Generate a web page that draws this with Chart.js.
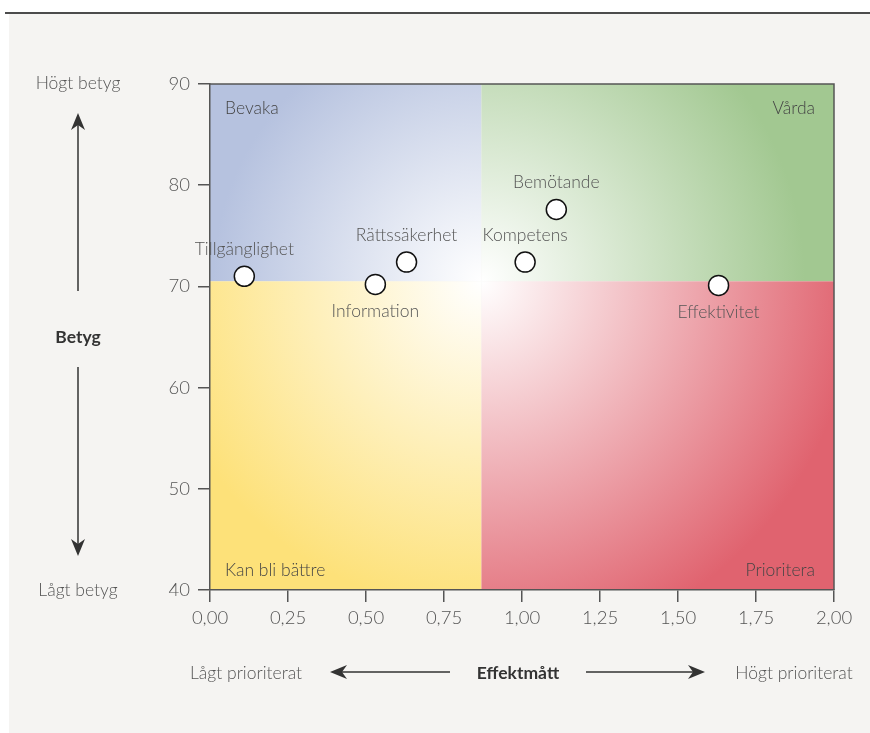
<!DOCTYPE html>
<html>
<head>
<meta charset="utf-8">
<script src="https://cdn.jsdelivr.net/npm/chart.js@4/dist/chart.umd.min.js"></script>
<style>
  html, body { margin: 0; padding: 0; background: #fff; }
  #wrap { width: 870px; height: 733px; }
</style>
</head>
<body>
<div id="wrap"><canvas id="matrix" width="870" height="733"></canvas></div>
<script>
// Data
const areas = ['Tillgänglighet', 'Information', 'Rättssäkerhet', 'Kompetens', 'Bemötande', 'Effektivitet'];
const effekt = [0.11, 0.53, 0.63, 1.01, 1.11, 1.63];
const betyg = [71.0, 70.2, 72.4, 72.4, 77.6, 70.1];
const labelSide = ['above', 'below', 'above', 'above', 'above', 'below'];

// quadrant split (x = effektmått, y = betyg)
const splitX = 0.87;
const splitY = 70.5;
const quadrantNames = ['Bevaka', 'Vårda', 'Kan bli bättre', 'Prioritera'];

const xTicks = [0, 0.25, 0.5, 0.75, 1, 1.25, 1.5, 1.75, 2];
const yTicks = [40, 50, 60, 70, 80, 90];

const FONT = 'Lato, "Open Sans", sans-serif';
const fmt = v => v.toFixed(2).replace('.', ',');

function arrowHead(ctx, tx, ty, dir) {
  // dir: 'up' | 'down' | 'left' | 'right'
  const L = 17, W = 7, N = 12;
  ctx.beginPath();
  if (dir === 'up' || dir === 'down') {
    const s = dir === 'up' ? 1 : -1;
    ctx.moveTo(tx, ty);
    ctx.lineTo(tx - W, ty + s * L);
    ctx.lineTo(tx, ty + s * N);
    ctx.lineTo(tx + W, ty + s * L);
  } else {
    const s = dir === 'left' ? 1 : -1;
    ctx.moveTo(tx, ty);
    ctx.lineTo(tx + s * L, ty - W);
    ctx.lineTo(tx + s * N, ty);
    ctx.lineTo(tx + s * L, ty + W);
  }
  ctx.closePath();
  ctx.fill();
}

const quadrantPlugin = {
  id: 'quadrants',
  beforeDraw(chart) {
    const ctx = chart.ctx;
    const area = chart.chartArea;
    const xs = chart.scales.x, ys = chart.scales.y;
    ctx.save();
    // page background, panel and top rule
    ctx.fillStyle = '#ffffff';
    ctx.fillRect(0, 0, chart.width, chart.height);
    ctx.fillStyle = '#f5f4f2';
    ctx.fillRect(9, 14, chart.width - 9, chart.height - 14);
    ctx.strokeStyle = '#111';
    ctx.lineWidth = 1.5;
    ctx.beginPath();
    ctx.moveTo(5, 13);
    ctx.lineTo(chart.width, 13);
    ctx.stroke();

    const cx = xs.getPixelForValue(splitX);
    const cy = ys.getPixelForValue(splitY);
    const quads = [
      { x0: area.left, y0: area.top, x1: cx, y1: cy, col: '#b6c2df' },
      { x0: cx, y0: area.top, x1: area.right, y1: cy, col: '#a2c891' },
      { x0: area.left, y0: cy, x1: cx, y1: area.bottom, col: '#fde179' },
      { x0: cx, y0: cy, x1: area.right, y1: area.bottom, col: '#e0636f' }
    ];
    quads.forEach(q => {
      const fx = Math.abs(q.x0 - cx) > Math.abs(q.x1 - cx) ? q.x0 : q.x1;
      const fy = Math.abs(q.y0 - cy) > Math.abs(q.y1 - cy) ? q.y0 : q.y1;
      const r = Math.hypot(fx - cx, fy - cy) * 0.8;
      const g = ctx.createRadialGradient(cx, cy, 0, cx, cy, r);
      g.addColorStop(0, '#ffffff');
      g.addColorStop(1, q.col);
      ctx.fillStyle = g;
      ctx.fillRect(q.x0, q.y0, q.x1 - q.x0, q.y1 - q.y0);
    });
    ctx.restore();
  },
  afterDraw(chart) {
    const ctx = chart.ctx;
    const area = chart.chartArea;
    ctx.save();
    // top and right frame
    ctx.strokeStyle = '#555';
    ctx.lineWidth = 1.5;
    ctx.beginPath();
    ctx.moveTo(area.left, area.top);
    ctx.lineTo(area.right, area.top);
    ctx.lineTo(area.right, area.bottom);
    ctx.stroke();

    // quadrant names
    ctx.fillStyle = '#454545';
    ctx.font = '300 17.5px ' + FONT;
    ctx.textBaseline = 'middle';
    ctx.textAlign = 'left';
    ctx.fillText(quadrantNames[0], area.left + 15, area.top + 24);
    ctx.fillText(quadrantNames[2], area.left + 15, area.bottom - 20);
    ctx.textAlign = 'right';
    ctx.fillText(quadrantNames[1], area.right - 19, area.top + 24);
    ctx.fillText(quadrantNames[3], area.right - 19, area.bottom - 20);

    // point labels
    const meta = chart.getDatasetMeta(0);
    ctx.fillStyle = '#555';
    ctx.textAlign = 'center';
    meta.data.forEach((pt, i) => {
      const dy = labelSide[i] === 'above' ? -27 : 27;
      ctx.fillText(areas[i], pt.x, pt.y + dy);
    });

    // side annotations: Betyg
    ctx.fillStyle = '#555';
    ctx.font = '300 17.5px ' + FONT;
    ctx.fillText('Högt betyg', 78, 83);
    ctx.fillText('Lågt betyg', 78, 590);
    ctx.fillStyle = '#333';
    ctx.font = 'bold 17.5px ' + FONT;
    ctx.fillText('Betyg', 78, 337);

    ctx.strokeStyle = '#333';
    ctx.lineWidth = 1.5;
    ctx.beginPath();
    ctx.moveTo(78, 124); ctx.lineTo(78, 291);
    ctx.moveTo(78, 367); ctx.lineTo(78, 545);
    ctx.stroke();
    arrowHead(ctx, 78, 113, 'up');
    arrowHead(ctx, 78, 556, 'down');

    // bottom annotations: Effektmått
    ctx.fillStyle = '#555';
    ctx.font = '300 17.5px ' + FONT;
    ctx.fillText('Lågt prioriterat', 246, 673);
    ctx.fillText('Högt prioriterat', 794, 673);
    ctx.fillStyle = '#333';
    ctx.font = 'bold 17.5px ' + FONT;
    ctx.fillText('Effektmått', 518, 673);

    ctx.beginPath();
    ctx.moveTo(341, 672); ctx.lineTo(450, 672);
    ctx.moveTo(586, 672); ctx.lineTo(694, 672);
    ctx.stroke();
    arrowHead(ctx, 330, 672, 'left');
    arrowHead(ctx, 705, 672, 'right');
    ctx.restore();
  }
};

const ctx = document.getElementById('matrix').getContext('2d');

new Chart(ctx, {
  type: 'scatter',
  data: {
    datasets: [{
      label: 'Områden',
      data: effekt.map((x, i) => ({ x: x, y: betyg[i] })),
      pointRadius: 10,
      pointHoverRadius: 10,
      pointBackgroundColor: '#ffffff',
      pointBorderColor: '#111',
      pointBorderWidth: 1.5
    }]
  },
  options: {
    responsive: false,
    animation: false,
    layout: { padding: { top: 84, right: 36, bottom: 103, left: 0 } },
    plugins: {
      legend: { display: false },
      tooltip: { enabled: false }
    },
    scales: {
      x: {
        type: 'linear',
        min: 0,
        max: 2,
        afterBuildTicks: s => { s.ticks = xTicks.map(v => ({ value: v })); },
        afterFit: s => { s.height = 40; },
        ticks: {
          callback: v => fmt(v),
          color: '#555',
          font: { family: FONT, size: 18.5, weight: '300' },
          padding: 5
        },
        grid: { drawOnChartArea: false, tickLength: 12, color: '#555', lineWidth: 1.5 },
        border: { color: '#555', width: 1.5 }
      },
      y: {
        type: 'linear',
        min: 40,
        max: 90,
        afterBuildTicks: s => { s.ticks = yTicks.map(v => ({ value: v })); },
        afterFit: s => { s.width = 210; },
        ticks: {
          color: '#555',
          font: { family: FONT, size: 18.5, weight: '300' },
          padding: 8
        },
        grid: { drawOnChartArea: false, tickLength: 12, color: '#555', lineWidth: 1.5 },
        border: { color: '#555', width: 1.5 }
      }
    }
  },
  plugins: [quadrantPlugin]
});
</script>
</body>
</html>
